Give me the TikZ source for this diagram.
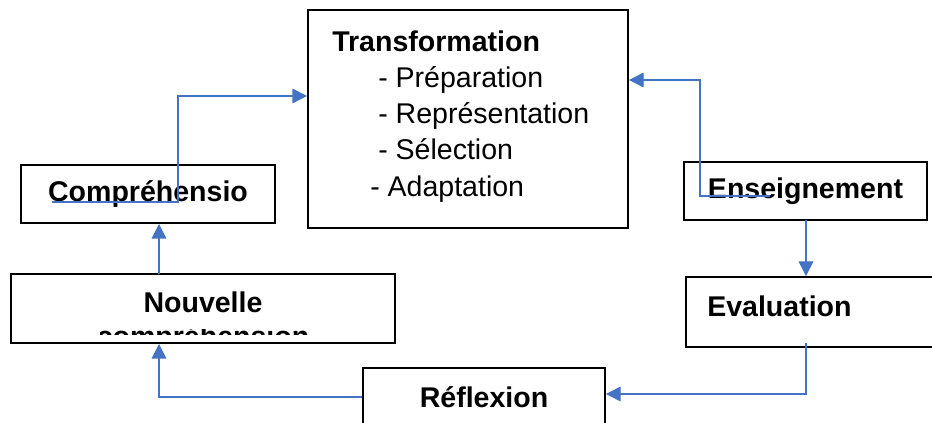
\documentclass[tikz,border=0pt]{standalone}
\usepackage{fontspec}
\setmainfont{Liberation Sans}
\usepackage{xcolor}
\usetikzlibrary{arrows.meta,positioning}

\definecolor{arrowblue}{HTML}{4472C4}

\begin{document}
\begin{tikzpicture}[
  x=0.75pt,
  y=-0.75pt,
  box/.style={draw=black, line width=1.4pt, inner sep=0pt},
  flow/.style={draw=arrowblue, line width=0.9pt, -{Triangle[length=11pt, width=11pt]}},
  title/.style={font=\fontsize{21.4}{26}\selectfont\bfseries, inner sep=0pt},
  item/.style={font=\fontsize{21.4}{26}\selectfont, inner sep=0pt, anchor=base west}
]
  \useasboundingbox (0,0) rectangle (932,423);

  % boxes
  \node[box, minimum width=240pt, minimum height=163.5pt] (trans) at (468,119) {};
  \node[box, minimum width=190.5pt, minimum height=43.5pt, title] (comp) at (148,194) {Compréhensio};
  \node[box, minimum width=288pt, minimum height=51.75pt] (nouv) at (203,308.5) {};
  \node[box, minimum width=181.5pt, minimum height=69pt] (refl) at (484,414) {};
  \node[box, minimum width=182.25pt, minimum height=43.5pt, title] (ens) at (805.5,191) {Enseignement};
  \node[box, minimum width=205.5pt, minimum height=52.5pt] (eval) at (823,312) {};

  % texts
  \node[title, anchor=base west] (transtitle) at (332,52) {Transformation};
  \foreach \y/\x/\text/\name in {88/378/Préparation/prep,124/378/Représentation/repr,160/378/Sélection/sel,197/370/Adaptation/adapt} {
    \node[item] (\name) at (\x,\y) {- \text};
  }
  \node[title] (nouvtext) at (203,302) {Nouvelle};
  \begin{scope}
    \clip (100,330) rectangle (320,334.5);
    \node[title] (comprtext) at (203,339) {compréhension};
  \end{scope}
  \node[title] (refltext) at (484,397) {Réflexion};
  \node[title, anchor=west] (evaltext) at (707,306) {Evaluation};

  % connectors
  \coordinate (compstart) at (52,202);
  \coordinate (nouvtop) at (159,274);
  \coordinate (ensstart) at (770,196);
  \coordinate (evalstart) at (806,343);

  \draw[flow] (compstart) -- (178,202) -- (178,96) -- (trans.west |- 0,96);
  \draw[flow] (nouvtop) -- (nouvtop |- comp.south);
  \draw[flow] (refl.west |- 0,397) -- (159,397) -- (159,397 |- nouv.south);
  \draw[flow] (ensstart) -- (700,196) -- (700,80) -- (trans.east |- 0,80);
  \draw[flow] (806,220) -- (806,220 |- eval.north);
  \draw[flow] (evalstart) -- (806,394) -- (refl.east |- 0,394);
\end{tikzpicture}
\end{document}
